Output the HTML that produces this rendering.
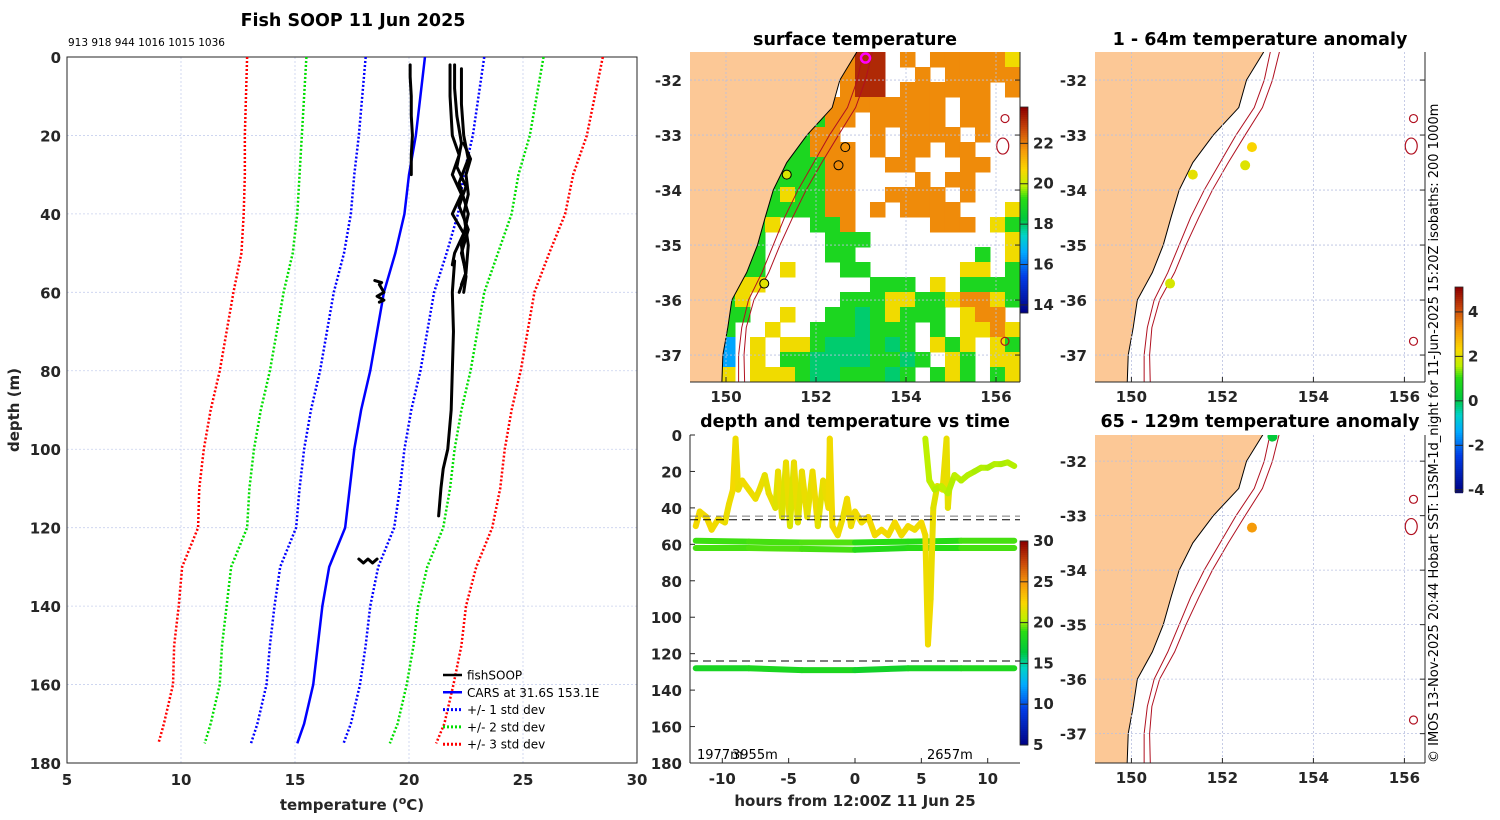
<!DOCTYPE html>
<html><head><meta charset="utf-8"><style>
html,body{margin:0;padding:0;background:#fff}
svg{display:block;font-family:"DejaVu Sans","Liberation Sans",sans-serif}
.tk{font-size:15px;font-weight:bold;fill:#262626}
.ttl{font-size:17.5px;font-weight:bold;fill:#000}
</style></head><body>
<svg id="fig" width="1500" height="820" viewBox="0 0 1500 820" xmlns="http://www.w3.org/2000/svg">
<defs>
<clipPath id="clipA"><rect x="690" y="52" width="330" height="330"/></clipPath>
<clipPath id="clipB"><rect x="1095" y="52" width="330" height="330"/></clipPath>
<clipPath id="clipC"><rect x="1095" y="435" width="330" height="328"/></clipPath>
<clipPath id="clipP"><rect x="67" y="57" width="570" height="706"/></clipPath>
<clipPath id="clipT"><rect x="690" y="435" width="330" height="328"/></clipPath>
</defs>
<text class="ttl" x="353" y="26" text-anchor="middle">Fish SOOP 11 Jun 2025</text>
<text x="68" y="46" font-size="10.5">913 918 944 1016 1015 1036</text>
<text class="ttl" x="855" y="45" text-anchor="middle">surface temperature</text>
<text class="ttl" x="855" y="427" text-anchor="middle">depth and temperature vs time</text>
<text class="ttl" x="1260" y="45" text-anchor="middle">1 - 64m temperature anomaly</text>
<text class="ttl" x="1260" y="427" text-anchor="middle">65 - 129m temperature anomaly</text>
<text x="0" y="0" font-size="13" transform="translate(1438,763) rotate(-90)">© IMOS 13-Nov-2025 20:44 Hobart SST: L3SM-1d_night for 11-Jun-2025 15:20Z isobaths: 200  1000m</text>
<text class="tk" x="352" y="810" text-anchor="middle" font-size="16">temperature (<tspan dy="-6" font-size="11">o</tspan><tspan dy="6">C)</tspan></text>
<text class="tk" font-size="16" transform="translate(19,410) rotate(-90)" text-anchor="middle">depth (m)</text>
<text class="tk" x="855" y="806" text-anchor="middle" font-size="16">hours from 12:00Z 11 Jun 25</text>
<g id="gP"></g><g id="gA"></g><g id="gT"></g><g id="gB"></g><g id="gC"></g><g id="gCB"></g>
</svg>
<script>
const carsDepth=[0,10,20,30,40,50,60,70,80,90,100,110,120,130,140,150,160,170,175];
const carsMean=[20.7,20.5,20.3,20.0,19.8,19.4,18.9,18.6,18.3,17.9,17.6,17.4,17.2,16.5,16.2,16.0,15.8,15.4,15.1];
const carsStd=[2.6,2.55,2.5,2.4,2.35,2.25,2.2,2.2,2.2,2.2,2.2,2.2,2.15,2.15,2.1,2.1,2.05,2.05,2.03];
const fishDepths=[
 [2,5,10,15,20,25,30],
 [2,10,20,25,30,35,40,45,50,53],
 [2,8,15,22,28,33,38,44,50,55,60],
 [3,12,20,26,32,40,48,56,60],
 [22,26,30,35,40,48,55,58],
 [52,60,70,80,90,100,105,110,117],
 [57,57.5,58,60,61,62,62.5],
 [128,129,128,129,128]
];
const fishTemps=[
 [20.05,20.05,20.1,20.1,20.15,20.1,20.1],
 [21.8,21.8,21.9,22.2,21.9,22.3,21.9,22.4,22.0,21.9],
 [22.0,22.0,22.1,22.3,22.1,22.5,22.2,22.6,22.3,22.5,22.2],
 [22.3,22.3,22.4,22.6,22.2,22.6,22.3,22.5,22.4],
 [22.4,22.7,22.5,22.6,22.4,22.6,22.5,22.3],
 [22.0,21.9,21.95,21.9,21.85,21.7,21.5,21.4,21.3],
 [18.5,18.8,18.7,18.9,18.6,18.9,18.7],
 [17.8,18.0,18.2,18.4,18.6]
];
const tempTicks=[5,10,15,20,25,30];
const depthTicks=[0,20,40,60,80,100,120,140,160,180];
const sstRows=[
"..........orr.o.oooooy",
"..........orr..o.ooooo",
"..........orr.oooooo.o",
".........oooooooo.oo..",
"........goo.ooooo.oo..",
".......goo..o.oooo.o..",
"......ggooo.o.oo.oo...",
"......gggoo..oo...oo..",
".....ggggoo....o.oo...",
".....gyggoo..oooo.o...",
"....gggggoo.o.oooo...y",
"....gy..ggo.....ooo.yg",
"....g....ggg.........y",
"...gg....gg........g.y",
"...gg.y...gg......yy.g",
"...yy.......ggg.y.gggg",
"..gy......gggyyggyooyg",
"..gg..y..ggGgyggg.yoo.",
"..g..y..gggGggg.g.yyoy",
"..c.y.yygGGGgGg.ygy.yg",
".cc.y.ggGGGGggGg.yg.yy",
".cy.yyygGGgggGg.gyg.gy"];
const sstCodes=['r','o','y','g','G','c'];
const sstCodeTemps=[23.2,21.9,20.6,19.0,18.0,16.6];
const coastLon=[153.0,152.9,152.53,152.36,151.8,151.35,151.05,150.87,150.7,150.46,150.13,150.04,149.93,149.9];
const coastLat=[-31.3,-31.5,-32,-32.5,-33,-33.5,-34,-34.5,-35,-35.5,-36,-36.5,-37,-37.7];
const iso200Lat=[-31.3,-31.5,-32,-32.5,-33,-33.5,-34,-34.5,-35,-35.5,-36,-36.5,-37,-37.7];
const iso200Lon=[153.1,153.05,152.92,152.7,152.3,151.95,151.6,151.3,151.05,150.8,150.5,150.35,150.28,150.28];
const iso1000Lon=[153.3,153.25,153.1,152.88,152.5,152.13,151.78,151.48,151.2,150.95,150.62,150.45,150.4,150.42];
const sitesLon=[152.65,152.5,151.35,150.85];
const sitesLat=[-33.22,-33.55,-33.72,-35.7];
const sitesSST=[21.8,21.9,20.3,20.4];
const sitesAnomShallow=[2.4,2.0,2.1,1.9];
const deepLon=[153.1,152.65];
const deepLat=[-31.55,-33.22];
const deepAnom=[0.2,3.2];
const shipLon=153.1, shipLat=-31.6;
const islandLon=[156.2,156.15,156.2];
const islandLat=[-32.7,-33.2,-36.75];
const lonTicks=[150,152,154,156];
const latTicks=[-32,-33,-34,-35,-36,-37];
const sstCbTicks=[14,16,18,20,22];
const anomCbTicks=[-4,-2,0,2,4];
const s1Hours=[-12.0,-11.7,-11.2,-10.8,-10.3,-9.8,-9.5,-9.2,-9.0,-8.8,-8.5,-8.0,-7.5,-7.2,-6.8,-6.5,-6.0,-5.8,-5.5,-5.2,-4.9,-4.6,-4.3,-4.0,-3.6,-3.2,-2.8,-2.4,-2.0,-1.9,-1.7,-1.3,-0.9,-0.6,-0.3,0.0,0.5,1.0,1.5,2.0,2.5,3.0,3.5,4.0,4.5,5.0,5.3,5.5,5.7,5.9,6.2,6.6,6.9,7.0,7.1];
const s1Depth=[50,42,45,52,46,48,38,30,2,30,25,30,35,30,22,32,40,20,45,15,50,15,48,20,45,20,50,25,40,2,50,55,45,35,50,42,48,45,55,52,55,48,55,50,52,48,55,115,90,40,28,30,2,40,30];
const s1Temp=[22.3,22.3,22.2,22.3,22.2,22.2,22.0,22.1,22.3,22.1,22.0,22.2,22.1,22.0,22.0,21.8,22.0,21.6,22.0,21.5,22.0,21.4,22.0,21.6,22.0,21.8,22.1,21.7,22.0,22.2,22.2,22.3,22.1,22.0,22.2,22.1,22.2,22.2,22.3,22.3,22.3,22.2,22.3,22.2,22.2,22.1,22.3,22.1,22.2,22.0,21.6,21.8,22.0,21.9,21.8];
const s2Hours=[5.3,5.6,6.0,6.5,7.0,7.5,8.0,8.5,9.0,9.5,10.0,10.5,11.0,11.5,12.0];
const s2Depth=[2,25,30,28,32,22,25,22,20,18,18,16,16,15,17];
const s2Temp=[20.6,20.5,20.5,20.4,20.5,20.4,20.5,20.4,20.4,20.3,20.4,20.3,20.4,20.3,20.4];
const flatHours=[-12,-8,-4,0,4,8,12];
const flat1Depth=[58,58.5,59,59,58.5,58,58];
const flat1Temp=[19.3,19.2,19.3,19.4,19.0,18.9,19.3];
const flat2Depth=[62,62,62.5,63,62,62,62];
const flat2Temp=[19.4,19.3,19.4,19.3,18.7,19.0,19.3];
const flat3Depth=[128,128,129,129,128,128,128];
const flat3Temp=[18.2,18.0,18.2,18.3,17.6,18.0,18.4];
const dashDepths=[44.5,46.5,124];
const hourTicks=[-10,-5,0,5,10];
const tsCbTicks=[5,10,15,20,25,30];

const NS='http://www.w3.org/2000/svg';
function mk(parent,tag,attrs){const e=document.createElementNS(NS,tag);for(const k in attrs)e.setAttribute(k,attrs[k]);parent.appendChild(e);return e;}
const cStops=[[0,[0,0,130]],[0.18,[0,60,230]],[0.3,[0,170,255]],[0.38,[0,210,200]],[0.46,[0,200,60]],[0.56,[40,220,20]],[0.62,[190,240,0]],[0.7,[250,215,0]],[0.8,[245,150,10]],[0.9,[200,70,10]],[1,[140,0,0]]];
function cmap(f){f=Math.max(0,Math.min(1,f));for(let i=1;i<cStops.length;i++){if(f<=cStops[i][0]){const a=cStops[i-1],b=cStops[i];const t=(f-a[0])/(b[0]-a[0]);const c=a[1].map((v,j)=>Math.round(v+(b[1][j]-v)*t));return 'rgb('+c.join(',')+')';}}return 'rgb(140,0,0)';}

(function(){
const g=document.getElementById('gP');
const X0=67,X1=637,Y0=57,Y1=763;
const xS=t=>X0+(t-5)/25*(X1-X0), yS=d=>Y0+d/180*(Y1-Y0);
tempTicks.forEach(t=>{const l=mk(g,'line',{x1:xS(t),x2:xS(t),y1:Y0,y2:Y1,stroke:'#c8d0ee','stroke-width':0.8,'stroke-dasharray':'2,2'});

const tx=mk(g,'text',{x:xS(t),y:Y1+22,'text-anchor':'middle',class:'tk'});tx.textContent=t;
});
depthTicks.forEach(d=>{const l=mk(g,'line',{x1:X0,x2:X1,y1:yS(d),y2:yS(d),stroke:'#c8d0ee','stroke-width':0.8,'stroke-dasharray':'2,2'});

const tx=mk(g,'text',{x:X0-6,y:yS(d)+6,'text-anchor':'end',class:'tk'});tx.textContent=d;
});
const fr=mk(g,'rect',{x:X0,y:Y0,width:X1-X0,height:Y1-Y0,fill:'none',stroke:'#262626','stroke-width':1});

const inner=mk(g,'g',{'clip-path':'url(#clipP)'});
const cols={1:'#0000ff',2:'#00dd00',3:'#ff0000'};
[-3,-2,-1,1,2,3].forEach(k=>{const pts=carsDepth.map((d,i)=>xS(carsMean[i]+k*carsStd[i])+','+yS(d)).join(' ');
const p=mk(inner,'polyline',{points:pts,fill:'none',stroke:cols[Math.abs(k)],'stroke-width':2.5,'stroke-dasharray':'2,2'});
});
const cm=mk(inner,'polyline',{points:carsDepth.map((d,i)=>xS(carsMean[i])+','+yS(d)).join(' '),fill:'none',stroke:'#0000ff','stroke-width':2.5});

fishDepths.forEach((ds,j)=>{const p=mk(inner,'polyline',{points:ds.map((d,i)=>xS(fishTemps[j][i])+','+yS(d)).join(' '),fill:'none',stroke:'#000','stroke-width':3,'stroke-linejoin':'round','stroke-linecap':'round'});
});
const leg=[['fishSOOP','#000',''],['CARS at 31.6S 153.1E','#0000ff',''],['+/- 1 std dev','#0000ff','2,2'],['+/- 2 std dev','#00dd00','2,2'],['+/- 3 std dev','#ff0000','2,2']];
leg.forEach((e,i)=>{const y=675+i*17.3;const lg=mk(g,'g',{});
mk(lg,'line',{x1:443,x2:462,y1:y,y2:y,stroke:e[1],'stroke-width':e[2]?3:2.5,'stroke-dasharray':e[2]||'none'});
const t=mk(lg,'text',{x:467,y:y+4.5,'font-size':12});t.textContent=e[0];});
})();

function drawMap(gid,clip,X0,Y0,W,H,pxLon,lat0,pxLat,name){
const g=document.getElementById(gid);
const xS=lon=>X0+(lon-149.2)*pxLon, yS=lat=>Y0+(lat0-lat)*pxLat;
const inner=mk(g,'g',{'clip-path':'url(#'+clip+')'});
return {g,inner,xS,yS,finish:function(){
lonTicks.forEach(v=>{const l=mk(inner,'line',{x1:xS(v),x2:xS(v),y1:Y0,y2:Y0+H,stroke:'#b8c0e0','stroke-width':0.8,'stroke-dasharray':'2,2'});

const t=mk(g,'text',{x:xS(v),y:Y0+H+20,'text-anchor':'middle',class:'tk'});t.textContent=v;

mk(g,'line',{x1:xS(v),x2:xS(v),y1:Y0+H,y2:Y0+H-5,stroke:'#262626'});});
latTicks.forEach(v=>{const y=yS(v);const l=mk(inner,'line',{x1:X0,x2:X0+W,y1:y,y2:y,stroke:'#b8c0e0','stroke-width':0.8,'stroke-dasharray':'2,2'});

const t=mk(g,'text',{x:X0-8,y:y+6,'text-anchor':'end',class:'tk'});t.textContent=v;

mk(g,'line',{x1:X0+W,x2:X0+W-5,y1:y,y2:y,stroke:'#262626'});});
mk(g,'line',{x1:X0,x2:X0+W,y1:Y0+H,y2:Y0+H,stroke:'#262626'});
mk(g,'line',{x1:X0+W,x2:X0+W,y1:Y0,y2:Y0+H,stroke:'#262626'});
},landAndIso:function(){
const pts=coastLon.map((lon,i)=>xS(lon)+','+yS(coastLat[i]));
const land=mk(inner,'polygon',{points:xS(148)+','+yS(-31)+' '+pts.join(' ')+' '+xS(148)+','+yS(-38),fill:'#fcc896',stroke:'#000','stroke-width':1});

[iso200Lon,iso1000Lon].forEach((arr,k)=>{const p=mk(inner,'polyline',{points:arr.map((lon,i)=>xS(lon)+','+yS(iso200Lat[i])).join(' '),fill:'none',stroke:'#b01020','stroke-width':1});
});
islandLon.forEach((lon,i)=>{const e=mk(inner,'ellipse',{cx:xS(lon),cy:yS(islandLat[i]),rx:i==1?6:4,ry:i==1?8:4,fill:'none',stroke:'#b01020','stroke-width':1.2});
});
}};}

(function(){
const m=drawMap('gA','clipA',690,52,330,330,45,-31.49,55,'sst-map');
const lo=13.6,hi=23.8;
sstRows.forEach((row,r)=>{for(let c=0;c<row.length;c++){const k=sstCodes.indexOf(row[c]);if(k<0)continue;
const lon0=149.2+c*(7.333/22), lat0=-31.49-r*(6/22);
const x=m.xS(lon0),y=m.yS(lat0),x2=m.xS(lon0+7.333/22),y2=m.yS(lat0-6/22);
const cell=mk(m.inner,'rect',{x:x,y:y,width:x2-x+0.5,height:y2-y+0.5,fill:cmap((sstCodeTemps[k]-lo)/(hi-lo))});
}});
m.landAndIso();
sitesLon.forEach((lon,i)=>{const c=mk(m.inner,'circle',{cx:m.xS(lon),cy:m.yS(sitesLat[i]),r:4.5,fill:cmap((sitesSST[i]-lo)/(hi-lo)),stroke:'#000','stroke-width':1});
});
const sh=mk(m.inner,'circle',{cx:m.xS(shipLon),cy:m.yS(shipLat),r:4.5,fill:'none',stroke:'#ff00ff','stroke-width':2.5});

m.finish();
const cb=mk(document.getElementById('gCB'),'g',{});
const cy0=107,cy1=313;
for(let y=cy0;y<cy1;y+=2){mk(cb,'rect',{x:1020,y:y,width:8,height:2.2,fill:cmap(1-(y-cy0)/(cy1-cy0))});}
mk(cb,'rect',{x:1020,y:cy0,width:8,height:cy1-cy0,fill:'none',stroke:'#262626','stroke-width':0.8});
sstCbTicks.forEach(v=>{const y=cy1-(v-lo)/(hi-lo)*(cy1-cy0);mk(cb,'line',{x1:1020,x2:1028,y1:y,y2:y,stroke:'#262626'});
const t=mk(cb,'text',{x:1033,y:y+5,class:'tk','font-size':13});t.textContent=v;
});
})();

const aLo=-4.1,aHi=5.12;
(function(){
const m=drawMap('gB','clipB',1095,52,330,330,45.5,-31.49,55,'anomaly-shallow-map');
m.landAndIso();
sitesLon.forEach((lon,i)=>{const c=mk(m.inner,'circle',{cx:m.xS(lon),cy:m.yS(sitesLat[i]),r:5,fill:cmap((sitesAnomShallow[i]-aLo)/(aHi-aLo))});
});
m.finish();
const m2=drawMap('gC','clipC',1095,435,330,328,45.5,-31.52,54.5,'anomaly-deep-map');
m2.landAndIso();
deepLon.forEach((lon,i)=>{const c=mk(m2.inner,'circle',{cx:m2.xS(lon),cy:m2.yS(deepLat[i]),r:5,fill:cmap((deepAnom[i]-aLo)/(aHi-aLo))});
});
m2.finish();
const cb=mk(document.getElementById('gCB'),'g',{});
const cy0=287,cy1=492;
for(let y=cy0;y<cy1;y+=2){mk(cb,'rect',{x:1455,y:y,width:8,height:2.2,fill:cmap(1-(y-cy0)/(cy1-cy0))});}
mk(cb,'rect',{x:1455,y:cy0,width:8,height:cy1-cy0,fill:'none',stroke:'#262626','stroke-width':0.8});
anomCbTicks.forEach(v=>{const y=cy1-(v-aLo)/(aHi-aLo)*(cy1-cy0);mk(cb,'line',{x1:1455,x2:1463,y1:y,y2:y,stroke:'#262626'});
const t=mk(cb,'text',{x:1468,y:y+5,class:'tk','font-size':13});t.textContent=v;
});
})();

(function(){
const g=document.getElementById('gT');
const X0=690,X1=1020,Y0=435,Y1=763;
const xS=h=>855+h*13.27, yS=d=>Y0+d/180*(Y1-Y0);
const lo=5,hi=30;
const inner=mk(g,'g',{'clip-path':'url(#clipT)'});
function series(hs,ds,ts,nm){for(let i=1;i<hs.length;i++){const l=mk(inner,'line',{x1:xS(hs[i-1]),y1:yS(ds[i-1]),x2:xS(hs[i]),y2:yS(ds[i]),stroke:cmap((ts[i]-lo)/(hi-lo)),'stroke-width':6,'stroke-linecap':'round'});
}}
series(flatHours,flat1Depth,flat1Temp,'sensor-58m-trace');
series(flatHours,flat2Depth,flat2Temp,'sensor-62m-trace');
series(flatHours,flat3Depth,flat3Temp,'sensor-128m-trace');
series(s1Hours,s1Depth,s1Temp,'sensor-shallow-trace');
series(s2Hours,s2Depth,s2Temp,'sensor-late-trace');
dashDepths.forEach((d,i)=>{const l=mk(inner,'line',{x1:X0,x2:X1,y1:yS(d),y2:yS(d),stroke:i==0?'#777':'#000','stroke-width':1,'stroke-dasharray':'8,5'});
});
depthTicks.forEach(d=>{const t=mk(g,'text',{x:X0-8,y:yS(d)+6,'text-anchor':'end',class:'tk'});t.textContent=d;

mk(g,'line',{x1:X0,x2:X0+5,y1:yS(d),y2:yS(d),stroke:'#262626'});});
hourTicks.forEach(h=>{const t=mk(g,'text',{x:xS(h),y:Y1+21,'text-anchor':'middle',class:'tk'});t.textContent=h;

mk(g,'line',{x1:xS(h),x2:xS(h),y1:Y1,y2:Y1-5,stroke:'#262626'});});
mk(g,'line',{x1:X0,x2:X0,y1:Y0,y2:Y1,stroke:'#262626'});
mk(g,'line',{x1:X0,x2:X1,y1:Y1,y2:Y1,stroke:'#262626'});
const t1=mk(g,'text',{x:697,y:759,'font-size':13});t1.textContent='1977m';
const t2=mk(g,'text',{x:732,y:759,'font-size':13});t2.textContent='3955m';
const t3=mk(g,'text',{x:927,y:759,'font-size':13});t3.textContent='2657m';
const cb=mk(document.getElementById('gCB'),'g',{});
const cy0=541,cy1=745;
for(let y=cy0;y<cy1;y+=2){mk(cb,'rect',{x:1020,y:y,width:8,height:2.2,fill:cmap(1-(y-cy0)/(cy1-cy0))});}
mk(cb,'rect',{x:1020,y:cy0,width:8,height:cy1-cy0,fill:'none',stroke:'#262626','stroke-width':0.8});
tsCbTicks.forEach(v=>{const y=cy1-(v-lo)/(hi-lo)*(cy1-cy0);mk(cb,'line',{x1:1020,x2:1028,y1:y,y2:y,stroke:'#262626'});
const t=mk(cb,'text',{x:1033,y:y+5,class:'tk','font-size':13});t.textContent=v;
});
})();
</script>
</body></html>
